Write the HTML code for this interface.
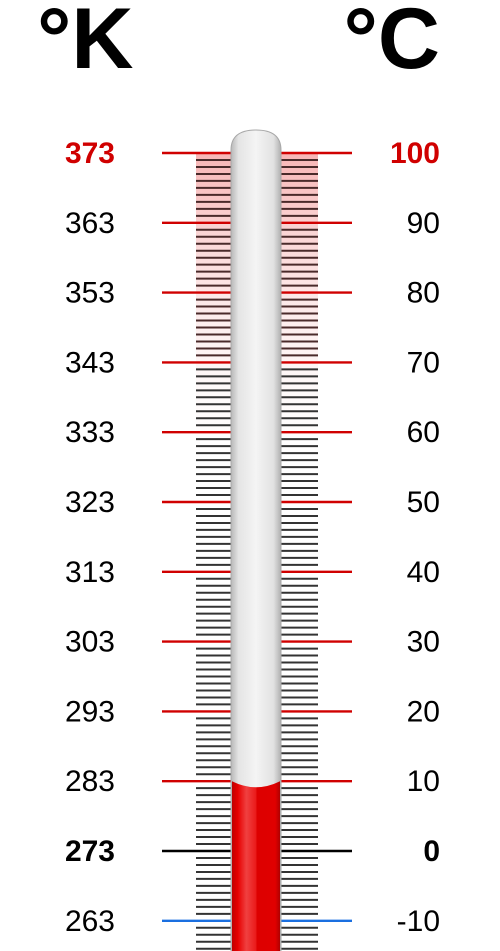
<!DOCTYPE html>
<html><head><meta charset="utf-8"><style>
html,body{margin:0;padding:0;background:#fff;width:500px;height:951px;overflow:hidden}
svg{display:block}
text{font-family:"Liberation Sans",sans-serif}
</style></head><body>
<svg id="chart" width="500" height="951" viewBox="0 0 500 951">
<defs>
<linearGradient id="tubeG" x1="0" x2="1" y1="0" y2="0">
<stop offset="0" stop-color="#b8b8b8"/><stop offset="0.15" stop-color="#e4e4e4"/><stop offset="0.5" stop-color="#f4f4f4"/><stop offset="0.85" stop-color="#e2e2e2"/><stop offset="1" stop-color="#b0b0b0"/>
</linearGradient>
<linearGradient id="mercG" x1="0" x2="1" y1="0" y2="0">
<stop offset="0" stop-color="#c00000"/><stop offset="0.12" stop-color="#e60000"/><stop offset="0.3" stop-color="#f04040"/><stop offset="0.5" stop-color="#ea1a1a"/><stop offset="0.52" stop-color="#dd0000"/><stop offset="0.9" stop-color="#e00000"/><stop offset="1" stop-color="#b00000"/>
</linearGradient>
<linearGradient id="pinkG" x1="0" x2="0" y1="0" y2="1">
<stop offset="0" stop-color="#f7b4b4"/><stop offset="1" stop-color="#ffffff" stop-opacity="0"/>
</linearGradient>
</defs>
<text x="37" y="68" font-size="86" font-weight="bold" fill="#000">°K</text>
<text x="440" y="68" font-size="86" font-weight="bold" fill="#000" text-anchor="end">°C</text>
<rect x="196" y="152" width="122" height="330" fill="url(#pinkG)"/>
<g id="minor"></g>
<g id="major"></g>
<g id="labels"></g>
<path d="M231,951 L231,150 Q231,130 256,130 Q281,130 281,150 L281,951 Z" fill="url(#tubeG)" stroke="#a8a8a8" stroke-width="1"/>
<path id="merc" fill="url(#mercG)"/>
</svg>
<script>
const celsiusTicks=[100,90,80,70,60,50,40,30,20,10,0,-10];
const kelvinTicks=[373,363,353,343,333,323,313,303,293,283,273,263];
const currentTemp=[10];
{
const yScale=c=>851-c*6.98;
const NS="http://www.w3.org/2000/svg";
const minorG=document.getElementById('minor'),majorG=document.getElementById('major'),labelsG=document.getElementById('labels');
for(let c=-14;c<=100;c++){
  if(c%10===0)continue;
  const l=document.createElementNS(NS,'line');
  l.setAttribute('x1',196);l.setAttribute('x2',318);
  l.setAttribute('y1',yScale(c));l.setAttribute('y2',yScale(c));
  l.setAttribute('stroke',c>=70?'#4a2a2a':'#333');l.setAttribute('stroke-width',2);
  
  
  minorG.appendChild(l);
}
celsiusTicks.forEach((c,i)=>{
  const col=c===0?'#000':(c<0?'#1a6fe0':'#d00000');
  const l=document.createElementNS(NS,'line');
  l.setAttribute('x1',162);l.setAttribute('x2',352);
  l.setAttribute('y1',yScale(c));l.setAttribute('y2',yScale(c));
  l.setAttribute('stroke',col);l.setAttribute('stroke-width',2.4);
  
  
  majorG.appendChild(l);
  const bold=(c===100||c===0);
  const tc=c===100?'#d00000':'#000';
  const k=document.createElementNS(NS,'text');
  k.setAttribute('x',115);k.setAttribute('y',yScale(c)+10);
  k.setAttribute('text-anchor','end');k.setAttribute('font-size',30);
  k.setAttribute('fill',tc);if(bold)k.setAttribute('font-weight','bold');
  k.textContent=kelvinTicks[i];
  
  
  labelsG.appendChild(k);
  const t=document.createElementNS(NS,'text');
  t.setAttribute('x',440);t.setAttribute('y',yScale(c)+10);
  t.setAttribute('text-anchor','end');t.setAttribute('font-size',30);
  t.setAttribute('fill',tc);if(bold)t.setAttribute('font-weight','bold');
  t.textContent=c;
  
  
  labelsG.appendChild(t);
});
const mercTop=yScale(currentTemp[0]);
document.getElementById('merc').setAttribute('d',`M232,951 L232,${mercTop} Q256,${mercTop+12} 280,${mercTop} L280,951 Z`);
}
</script>
</body></html>
